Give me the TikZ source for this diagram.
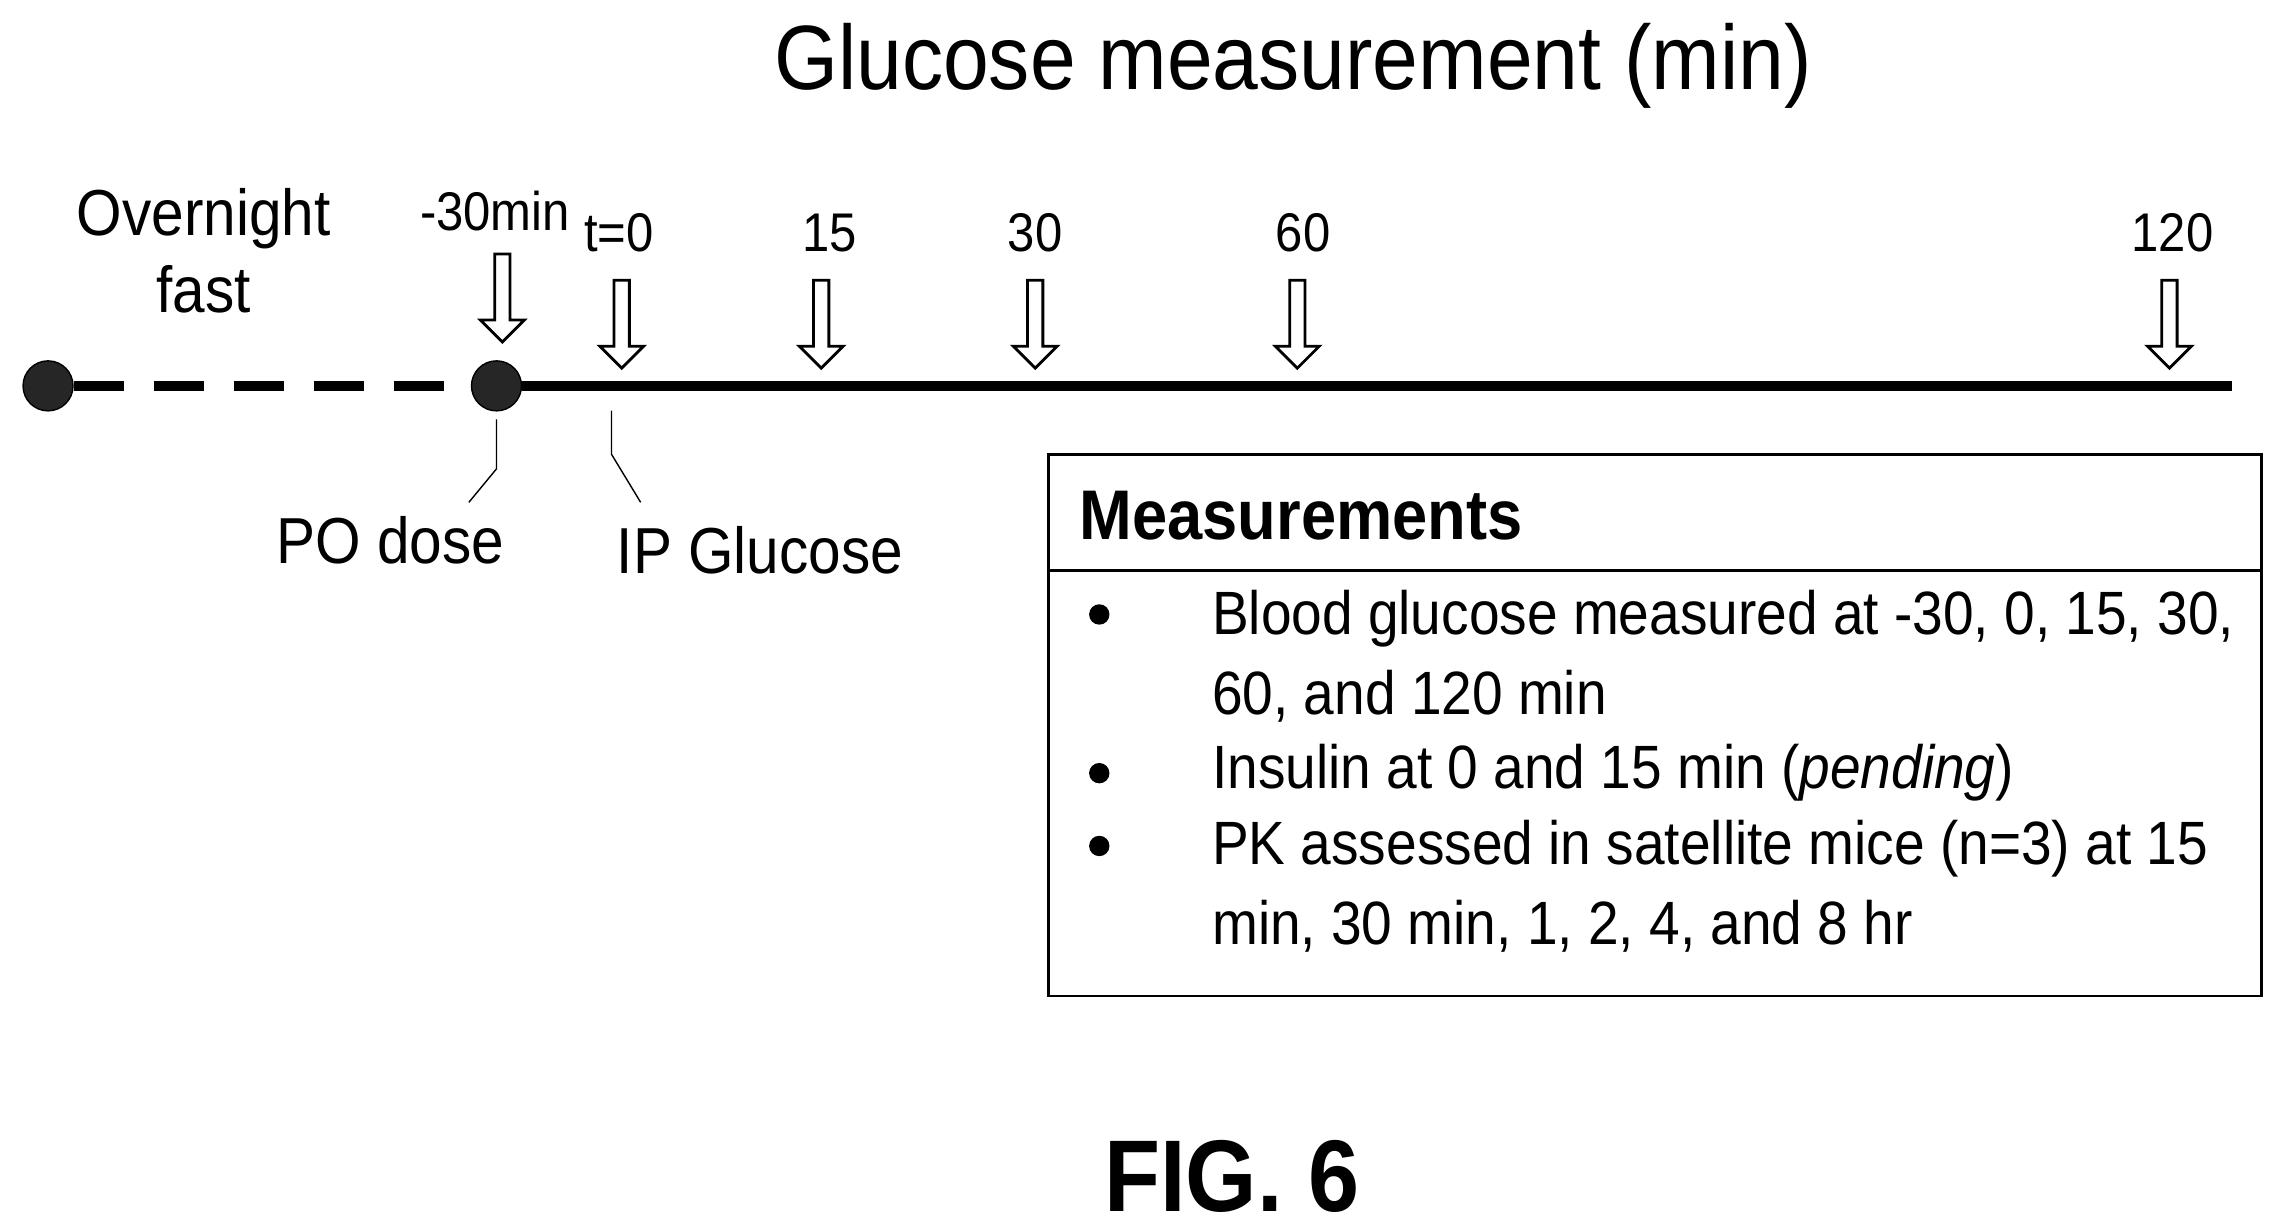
\documentclass[tikz,border=0pt]{standalone}
\usepackage{fontspec}
\setmainfont{Liberation Sans}[FakeStretch=0.9]
\usetikzlibrary{shapes.arrows}
\tikzset{dot/.style={circle,fill=black!85,draw=black,inner sep=0pt,minimum size=5mm},
  harrow/.style={single arrow,draw,thick,shape border rotate=270,minimum height=8.8mm,
    minimum width=4.4mm,single arrow head extend=1.2mm,inner sep=0.5mm,
    single arrow head indent=0mm},
  tick/.style={font=\fontsize{15.5}{18}\selectfont},
  lbl/.style={font=\fontsize{18.5}{22}\selectfont},
  txt/.style={font=\fontsize{17.4}{22}\selectfont,anchor=west}}
\begin{document}
\begin{tikzpicture}[x=0.1456mm,y=-0.1456mm]
  \useasboundingbox (0,0) rectangle (1568,846);
  \node[font=\fontsize{26}{30}\selectfont] at (888,45) {Glucose measurement (min)};
  \node[lbl,align=center] at (140,172) {Overnight\\fast};
  % timeline
  \node[dot] (s) at (33,265) {};
  \node[dot] (d) at (341,265) {};
  \coordinate (e) at (1533,265);
  \draw[line width=1mm,dash pattern=on 5mm off 3mm] (s) -- (d);
  \draw[line width=1mm] (d) -- (e);
  % arrows
  \node[harrow] (a0) at (345,202) {};
  \foreach \x/\n in {427/a1,564/a2,711/a3,891/a4,1490/a5}
    \node[harrow] (\n) at (\x,220) {};
  \node[tick] at (340,145) {-30min};
  \node[tick] at (425,160) {t=0};
  \node[tick] at (570,160) {15};
  \node[tick] at (711,160) {30};
  \node[tick] at (895,160) {60};
  \node[tick] at (1492,160) {120};
  % leaders
  \node[lbl] (po) at (268,371) {PO dose};
  \node[lbl] (ip) at (522,378) {IP Glucose};
  \draw (341,288) -- (341,322) -- (322,345);
  \draw (420,282) -- (420,312) -- (440,345);
  % box
  \draw[thick] (720,312) rectangle (1553,684);
  \draw[thick] (720,392) -- (1553,392);
  \node[font=\bfseries\fontsize{20}{24}\selectfont,anchor=west] at (733,354) {Measurements};
  \foreach \y in {422,531,581} \fill (755,\y) circle (7);
  \node[txt] at (824,425) {Blood glucose measured at -30, 0, 15, 30,};
  \node[txt] at (824,478) {60, and 120 min};
  \node[txt] at (824,531) {Insulin at 0 and 15 min (\textit{pending})};
  \node[txt] at (824,583) {PK assessed in satellite mice (n=3) at 15};
  \node[txt] at (824,636) {min, 30 min, 1, 2, 4, and 8 hr};
  \node[font=\bfseries\fontsize{29}{32}\selectfont] at (846,808) {FIG. 6};
\end{tikzpicture}
\end{document}
